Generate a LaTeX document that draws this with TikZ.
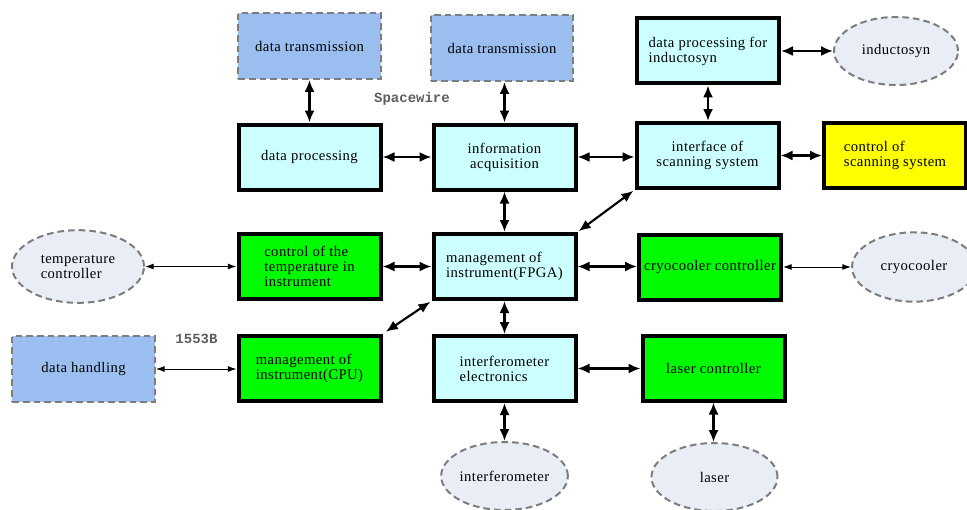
\documentclass[tikz,border=0pt]{standalone}
\usepackage{fontspec}
\setmainfont[LetterSpace=3]{Liberation Serif}
\newfontfamily\labfont{Liberation Mono}
\usetikzlibrary{arrows.meta,shapes.geometric}
\definecolor{cyanfill}{RGB}{204,255,255}
\definecolor{greenfill}{RGB}{0,250,0}
\definecolor{yellowfill}{RGB}{255,255,0}
\definecolor{bluefill}{RGB}{155,190,240}
\definecolor{ellfill}{RGB}{232,237,246}
\definecolor{dashgray}{RGB}{125,125,125}
\definecolor{labgray}{RGB}{95,95,95}
\begin{document}
\begin{tikzpicture}[x=0.75pt,y=-0.75pt,
  txt/.style={font=\fontsize{11}{11.2}\selectfont},
  box/.style={txt,draw=black,line width=3pt,minimum width=106.5pt,minimum height=48.75pt,inner sep=0pt},
  cbox/.style={box,fill=cyanfill},
  gbox/.style={box,fill=greenfill},
  ybox/.style={box,fill=yellowfill},
  dbox/.style={txt,draw=dashgray,dash pattern=on 5pt off 3pt,line width=1.5pt,fill=bluefill,minimum width=107pt,minimum height=49.5pt,inner sep=0pt},
  ell/.style={txt,ellipse,draw=dashgray,dash pattern=on 5pt off 3pt,line width=1.5pt,fill=ellfill,inner sep=0pt},
  link/.style={{Latex[length=9pt,width=7.5pt]}-{Latex[length=9pt,width=7.5pt]},line width=1.6pt},
  thinlink/.style={{Latex[length=6.5pt,width=4.5pt]}-{Latex[length=6.5pt,width=4.5pt]},line width=0.75pt},
  lab/.style={text=labgray,font=\labfont\bfseries\fontsize{10.5}{11}\selectfont}
]
\fill[white] (0,0) rectangle (967,510);
\useasboundingbox (0,0) rectangle (967,510);

% top row
\node[dbox] (dt1) at (309.5,46) {data transmission};
\node[dbox] (dt2) at (502,48) {data transmission};
\node[cbox,align=left] (dpi) at (708,51) {data processing for\\inductosyn};
\node[ell,minimum width=93pt,minimum height=51pt] (ind) at (896,51) {inductosyn};

% second row
\node[cbox] (dp) at (309.5,157) {data processing};
\node[cbox,align=center] (ia) at (504.5,157) {information\\acquisition};
\node[cbox,align=center] (ifs) at (707.5,155.5) {interface of\\scanning system};
\node[ybox,align=left] (cs) at (895,155.5) {control of\\scanning system};

% third row
\node[ell,align=left,minimum width=99pt,minimum height=54.5pt] (tc) at (78,266.5) {temperature\\controller};
\node[gbox,align=left] (tci) at (309.5,266.5) {control of the\\temperature in\\instrument};
\node[cbox,align=left] (fpga) at (504.5,266.5) {management of\\instrument(FPGA)};
\node[gbox] (ccc) at (710,267) {cryocooler controller};
\node[ell,minimum width=93pt,minimum height=52pt] (cc) at (914,267) {cryocooler};

% fourth row
\node[dbox] (dh) at (83.5,369) {data handling};
\node[gbox,align=left] (cpu) at (309.5,368.5) {management of\\instrument(CPU)};
\node[cbox,align=left] (ie) at (504.5,368.5) {interferometer\\electronics};
\node[gbox] (lc) at (713.5,368) {laser controller};

% bottom
\node[ell,minimum width=93pt,minimum height=51pt] (ifm) at (504.5,476) {interferometer};
\node[ell,minimum width=94.5pt,minimum height=51pt] (las) at (714.5,477) {laser};

% labels
\node[lab] (sw) at (412,99) {Spacewire};
\node[lab] (b1553) at (196.5,339) {1553B};

% connectors
\draw[link] (dt1.south) -- (dt1.south |- dp.north);
\draw[link] (dt2.south -| ia.north) -- (ia.north);
\draw[link] (dp.east) -- (ia.west |- dp.east);
\draw[link] (ia.east) -- (ifs.west |- ia.east);
\draw[link] (dpi.south) -- (dpi.south |- ifs.north);
\draw[link] (dpi.east) -- (ind.west);
\draw[link] (ifs.east) -- (cs.west);
\draw[link] (ia.south) -- (fpga.north);
\draw[link,shorten <=1pt,shorten >=1pt] (fpga.north east) -- (ifs.south west);
\draw[thinlink] (tc.east) -- (tci.west);
\draw[link] (tci.east) -- (fpga.west);
\draw[link] (fpga.east) -- (ccc.west |- fpga.east);
\draw[thinlink] (ccc.east) -- (cc.west);
\draw[link] (fpga.south) -- (ie.north);
\draw[link,shorten <=3pt,shorten >=1pt] (cpu.north east) -- (fpga.south west);
\draw[thinlink] (dh.east) -- (cpu.west |- dh.east);
\draw[link] (ie.east) -- (lc.west |- ie.east);
\draw[link] (ie.south) -- (ifm.north);
\draw[link] (lc.south) -- (lc.south |- las.north);
\end{tikzpicture}
\end{document}
